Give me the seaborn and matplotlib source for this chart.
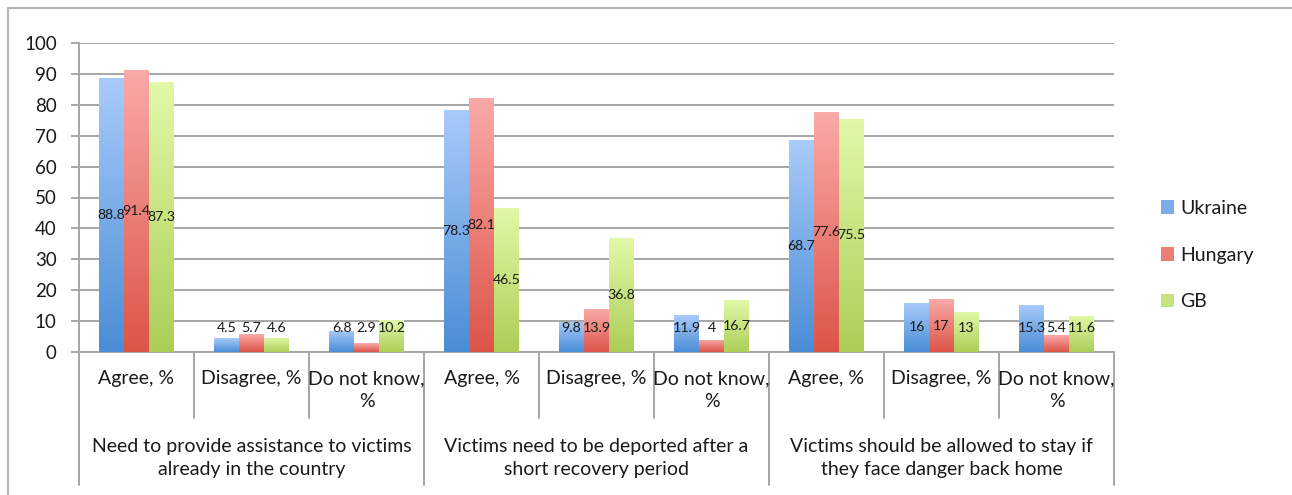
import numpy as np
import pandas as pd
import matplotlib
matplotlib.use("Agg")
import matplotlib.pyplot as plt
import matplotlib.transforms as mtransforms
from matplotlib.lines import Line2D
from matplotlib.patches import Rectangle
from matplotlib.colors import to_rgb
import seaborn as sns

# ---- data -------------------------------------------------------------
statements = [
    "Need to provide assistance to victims\nalready in the country",
    "Victims need to be deported after a\nshort recovery period",
    "Victims should be allowed to stay if\nthey face danger back home",
]
answers = ["Agree, %", "Disagree, %", "Do not know,\n%"]
countries = ["Ukraine", "Hungary", "GB"]

ukraine = [88.8, 4.5, 6.8, 78.3, 9.8, 11.9, 68.7, 16, 15.3]
hungary = [91.4, 5.7, 2.9, 82.1, 13.9, 4, 77.6, 17, 5.4]
gb = [87.3, 4.6, 10.2, 46.5, 36.8, 16.7, 75.5, 13, 11.6]

y_ticks = [0, 10, 20, 30, 40, 50, 60, 70, 80, 90, 100]

# ---- styling ----------------------------------------------------------
grad = {
    "Ukraine": ("#A9CBFA", "#4A8DD6"),
    "Hungary": ("#FAAAA8", "#DC5448"),
    "GB": ("#E1F9A8", "#ACCE57"),
}
mid = {k: tuple((np.array(to_rgb(a)) + np.array(to_rgb(b))) / 2) for k, (a, b) in grad.items()}
grid_col = "#A6A6A6"
txt_col = "#1A1A1A"

sns.set_theme(style="white")
plt.rcParams["font.family"] = ["Lato", "DejaVu Sans"]

n_items = len(statements) * len(answers)
items = [str(i) for i in range(n_items)]
values = {"Ukraine": ukraine, "Hungary": hungary, "GB": gb}
df = pd.DataFrame(
    [(items[i], c, values[c][i]) for c in countries for i in range(n_items)],
    columns=["item", "country", "value"],
)

W, H = 1292, 495
fig = plt.figure(figsize=(W / 100, H / 100), dpi=100)
ax_left, ax_right, ax_top, ax_bottom = 79, 1114, 43, 352
ax = fig.add_axes([ax_left / W, 1 - ax_bottom / H, (ax_right - ax_left) / W, (ax_bottom - ax_top) / H])

sns.barplot(
    data=df, x="item", y="value", hue="country", order=items, hue_order=countries,
    palette=mid, width=0.65, gap=0, ax=ax, legend=False, saturation=1,
    errorbar=None, zorder=3, edgecolor="none", linewidth=0,
)

# vertical gradient fill for every bar
bars_by_country = {c: ax.containers[k] for k, c in enumerate(countries)}
for c, cont in bars_by_country.items():
    top, bot = np.array(to_rgb(grad[c][0])), np.array(to_rgb(grad[c][1]))
    t = np.linspace(0, 1, 256)[:, None]
    img = (top[None, :] * (1 - t) + bot[None, :] * t)[:, None, :]
    for patch in cont.patches:
        x0, w, h = patch.get_x(), patch.get_width(), patch.get_height()
        im = ax.imshow(img, extent=[x0, x0 + w, 0, h], aspect="auto",
                       origin="upper", zorder=4, interpolation="bilinear")
        im.set_clip_path(patch)
ax.set_xlim(-0.5, n_items - 0.5)
ax.set_ylim(0, 100)

# value labels centred in each bar
for c, cont in bars_by_country.items():
    for patch, v in zip(cont.patches, values[c]):
        xc = patch.get_x() + patch.get_width() / 2
        ax.text(xc, max(v / 2, 7.8), f"{v:g}", ha="center", va="center",
                fontsize=10.2, color=txt_col, zorder=6)

# axes, grid, ticks
ax.set_yticks(y_ticks)
ax.set_yticklabels([str(t) for t in y_ticks])
ax.yaxis.grid(True, color=grid_col, linewidth=1.4, zorder=0)
ax.xaxis.grid(False)
ax.set_axisbelow(True)
for s in ["top", "right"]:
    ax.spines[s].set_visible(False)
for s in ["left", "bottom"]:
    ax.spines[s].set_color(grid_col)
    ax.spines[s].set_linewidth(1.4)
ax.tick_params(axis="y", which="major", left=True, length=6, width=1.4,
               color=grid_col, pad=10, labelsize=13.5, labelcolor=txt_col)
ax.set_xticks([])
ax.set_xlabel("")
ax.set_ylabel("")

# two-level category axis
trans = mtransforms.blended_transform_factory(ax.transData, ax.transAxes)
px = 1 / (ax_bottom - ax_top)
sub_end = -(418 - ax_bottom) * px
grp_end = -(485 - ax_bottom) * px
for k in range(n_items + 1):
    xb = k - 0.5
    end = grp_end if k % len(answers) == 0 else sub_end
    ax.add_line(Line2D([xb, xb], [0, end], transform=trans, color=grid_col,
                       linewidth=1.4, clip_on=False))
for i in range(n_items):
    ax.text(i, -(370 - ax_bottom) * px, answers[i % len(answers)], transform=trans,
            ha="center", va="top", fontsize=14, color=txt_col,
            linespacing=1.45, clip_on=False)
for g, s in enumerate(statements):
    xc = g * len(answers) + (len(answers) - 1) / 2
    ax.text(xc, -(438 - ax_bottom) * px, s, transform=trans, ha="center",
            va="top", fontsize=14, color=txt_col, linespacing=1.45, clip_on=False)

# legend
handles = [Rectangle((0, 0), 1, 1, facecolor=mid[c], edgecolor="none") for c in countries]
fig.legend(handles, countries, loc="center left",
           bbox_to_anchor=(1143 / W, 1 - 255 / H), frameon=False,
           fontsize=14, labelspacing=1.53, handlelength=0.7, handleheight=0.7,
           handletextpad=0.3, labelcolor=txt_col)

# chart-area border
bc = "#B4B4B4"
fig.add_artist(Line2D([8 / W, 1.0], [1 - 8 / H, 1 - 8 / H], transform=fig.transFigure,
                      color=bc, linewidth=1.5))
fig.add_artist(Line2D([8 / W, 8 / W], [0, 1 - 8 / H], transform=fig.transFigure,
                      color=bc, linewidth=1.5))

fig.savefig("out.png", dpi=100, facecolor="white")
